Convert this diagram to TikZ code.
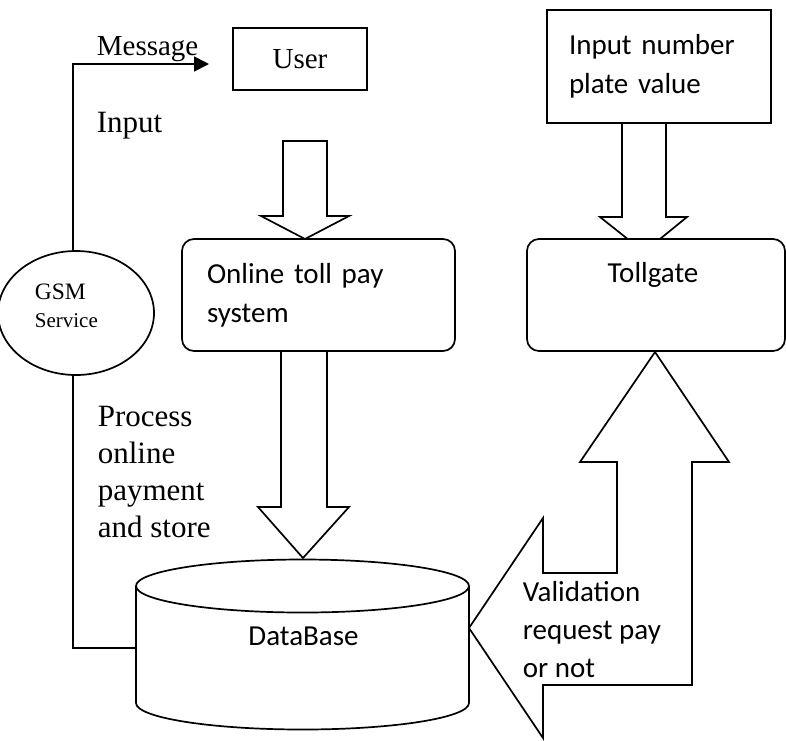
\documentclass[tikz,border=0pt]{standalone}
\usepackage{fontspec}
\setmainfont{Liberation Serif}
\newfontfamily\calfont{Carlito}
\usetikzlibrary{shapes.geometric,arrows.meta,calc}
\begin{document}
\begin{tikzpicture}[x=1pt,y=-1pt, line width=1.7pt,
  box/.style={draw, fill=white, inner sep=0pt},
  rbox/.style={draw, fill=white, rounded corners=12pt, inner sep=0pt},
  blockarrow/.style={draw, fill=white, line join=miter},
  serif/.style={font=\fontsize{#1}{36.7}\selectfont, inner sep=0pt, anchor=base west, align=left},
  cal/.style={font=\calfont\fontsize{29}{38}\selectfont, inner sep=0pt}
]
\useasboundingbox (0,0) rectangle (786,740);
\fill[white] (0,0) rectangle (786,740);

% block arrows (drawn first, boxes cover their ends)
\draw[blockarrow] (283,141) -- (327,141) -- (327,216) -- (349,216) -- (305,239) -- (261,216) -- (283,216) -- cycle;
\draw[blockarrow] (281,345) -- (327,345) -- (327,507) -- (349,507) -- (303,558) -- (258,507) -- (281,507) -- cycle;
\draw[blockarrow] (622,117) -- (666,117) -- (666,217) -- (687,217) -- (644,252) -- (600,217) -- (622,217) -- cycle;
\draw[blockarrow] (655,352) -- (729,462) -- (692,462) -- (692,685) -- (543,685) -- (543,738) -- (469,628) -- (543,518) -- (543,573) -- (617,573) -- (617,462) -- (580,462) -- cycle;

% boxes
\node[box, minimum width=134, minimum height=62, font=\fontsize{29}{34}\selectfont] (user) at (300,59) {User};
\node[rbox, minimum width=273, minimum height=112, text width=223, align=left, inner xsep=25pt,
      font=\calfont\fontsize{29}{39}\selectfont] (online) at (318.5,295) {Online toll pay\\system};
\node[rbox, minimum width=258, minimum height=112] (toll) at (656,295) {};
\node[cal, anchor=base] (tolltext) at (653,282) {Tollgate};
\node[box, minimum width=224, minimum height=113, text width=180, inner xsep=22pt, align=left,
      font=\calfont\fontsize{29}{39}\selectfont] (plate) at (659,66.5) {Input number\\plate value};

% GSM service
\node[draw, fill=white, ellipse, minimum width=156, minimum height=124, inner sep=0pt] (gsm) at (76,313) {};
\node[inner sep=0pt, anchor=base west, align=left, font=\fontsize{21}{28}\selectfont] (gsmtext) at (34,327)
  {{\fontsize{23.5}{28}\selectfont GSM}\\Service};

% database cylinder
\node[minimum width=333, minimum height=171, inner sep=0pt] (db) at (302.5,644.5) {};
\draw[fill=white] (136,586) -- (136,703) .. controls (136,717.6) and (210.5,729.5) .. (302.5,729.5)
  .. controls (394.5,729.5) and (469,717.6) .. (469,703) -- (469,586);
\draw[fill=white] (302.5,586) ellipse [x radius=166.5, y radius=26.5];
\node[cal, anchor=base] (dbtext) at (303.5,645) {DataBase};

% connectors
\coordinate (msgend) at (209,64);
\draw[-{Triangle[length=15pt,width=15pt]}] ([xshift=-3pt]gsm.north) |- (msgend);
\draw ([xshift=-3pt]gsm.south) |- ([yshift=-3.5pt]db.west);

% labels
\node[serif=29] (msglabel) at (96,55) {Message};
\node[serif=31] (inputlabel) at (96,132) {Input};
\node[serif=31] (proclabel) at (97,537) {Process\\online\\payment\\and store};
\node[cal, anchor=base west, align=left] (vallabel) at (522,677) {Validation\\request pay\\or not};
\end{tikzpicture}
\end{document}
